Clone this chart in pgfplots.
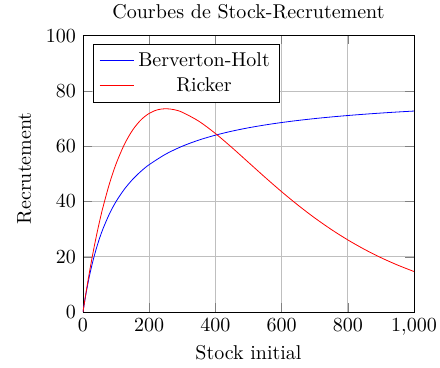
\documentclass[border=0pt]{standalone}
\usepackage{pgfplots}
\pgfplotsset{compat=1.18}
\begin{document}
\begin{tikzpicture}
\path[use as bounding box] (-41.5pt,-28pt) rectangle (178.5pt,156pt);
\begin{axis}[
  at={(0,0)}, anchor=south west,
  scale only axis,
  width=165.5pt, height=138.15pt,
  xmin=0, xmax=1000, ymin=0, ymax=100,
  xtick={0,200,400,600,800,1000},
  ytick={0,20,40,60,80,100},
  grid=major,
  title={Courbes de Stock-Recrutement},
  every axis title/.style={at={(axis description cs:0.5,1)}, anchor=base, yshift=8.7pt},
  xlabel={Stock initial},
  every axis x label/.style={at={(axis description cs:0.5,0)}, anchor=base, yshift=-23.65pt},
  ylabel={Recrutement},
  every axis y label/.style={at={(axis description cs:0,0.5)}, anchor=base, xshift=-26pt, yshift=2.75pt, rotate=90},
  legend pos=north west,
  legend cell align=center,
]
\addplot[blue, smooth, no marks] coordinates {
(0,0) (5,3.810) (10,7.273) (20,13.333) (30,18.462) (40,22.857) (50,26.667) (60,30) (80,35.556) (100,40) (125,44.444) (150,48) (175,50.909) (200,53.333) (250,57.143) (300,60) (350,62.222) (400,64) (450,65.455) (500,66.667) (550,67.692) (600,68.571) (650,69.333) (700,70) (750,70.588) (800,71.111) (850,71.579) (900,72) (950,72.381) (1000,72.727)
};
\addlegendentry{Berverton-Holt}
\addplot[red, smooth, no marks] coordinates {
(0,0) (5,3.921) (10,7.686) (20,14.770) (30,21.286) (40,27.269) (50,32.749) (60,37.758) (80,46.474) (100,53.626) (125,60.653) (150,65.857) (175,69.522) (200,71.893) (225,73.183) (250,73.576) (275,73.232) (300,72.287) (350,69.047) (400,64.607) (450,59.508) (500,54.134) (550,48.753) (600,43.545) (650,38.622) (700,34.054) (750,29.872) (800,26.088) (850,22.694) (900,19.673) (950,17.002) (1000,14.653)
};
\addlegendentry{Ricker}
\end{axis}
\end{tikzpicture}
\end{document}
